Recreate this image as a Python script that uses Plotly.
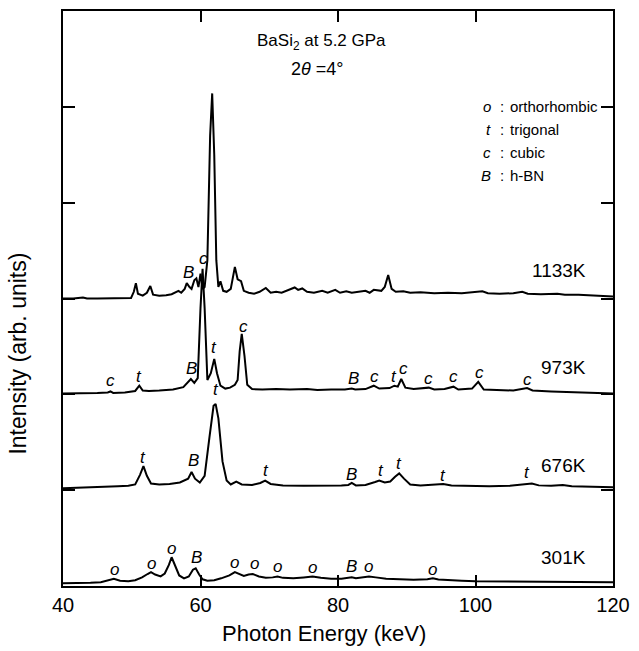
import plotly.graph_objects as go

# ---------------- data (photon energy keV, intensity in arb. units incl. offset) -------------
E_301 = [40.0, 42.0, 44.0, 45.5, 46.5, 47.4, 48.3, 49.5, 50.5, 51.5, 52.3, 52.8, 53.4, 54.2, 54.8,
         55.4, 55.8, 56.3, 56.9, 57.6, 58.3, 58.9, 59.3, 59.8, 60.3, 61.0, 62.0, 63.0, 64.2, 65.0,
         65.7, 66.3, 67.0, 67.6, 68.5, 69.5, 70.5, 71.2, 72.0, 73.5, 75.0, 76.3, 77.5, 79.0, 80.5,
         81.5, 82.0, 82.6, 83.5, 84.5, 85.5, 87.0, 89.0, 91.0, 93.0, 93.8, 94.6, 96.0, 98.0, 100.0,
         103.0, 106.0, 110.0, 114.0, 117.0, 120.0]
I_301 = [0.03, 0.03, 0.035, 0.04, 0.06, 0.075, 0.055, 0.05, 0.06, 0.09, 0.125, 0.145, 0.12, 0.10, 0.13,
         0.22, 0.30, 0.21, 0.11, 0.08, 0.10, 0.17, 0.185, 0.12, 0.07, 0.055, 0.06, 0.08, 0.11, 0.145,
         0.12, 0.105, 0.12, 0.125, 0.10, 0.085, 0.09, 0.10, 0.085, 0.08, 0.09, 0.10, 0.085, 0.075, 0.075,
         0.08, 0.09, 0.08, 0.09, 0.10, 0.09, 0.075, 0.07, 0.065, 0.07, 0.08, 0.068, 0.06, 0.055, 0.05,
         0.048, 0.045, 0.045, 0.04, 0.04, 0.04]

E_676 = [40.0, 43.0, 46.0, 48.0, 49.5, 50.5, 51.2, 51.7, 52.2, 52.8, 54.0, 55.5, 57.0, 58.2, 58.7,
         59.2, 59.9, 60.6, 61.3, 61.9, 62.2, 62.6, 63.2, 63.8, 64.4, 65.2, 66.0, 67.5, 68.7, 69.4,
         70.2, 72.0, 75.0, 78.0, 80.5, 81.5, 82.0, 82.6, 84.0, 85.4, 86.0, 86.8, 87.6, 88.3, 88.9,
         89.6, 90.5, 92.0, 94.2, 95.3, 96.5, 99.0, 102.0, 105.0, 107.3, 108.2, 109.2, 111.0, 112.7,
         114.0, 117.0, 120.0]
I_676 = [1.02, 1.025, 1.03, 1.04, 1.045, 1.06, 1.16, 1.25, 1.15, 1.07, 1.06, 1.065, 1.08, 1.12, 1.19,
         1.12, 1.08, 1.15, 1.55, 1.88, 1.90, 1.75, 1.30, 1.10, 1.06, 1.09, 1.06, 1.055, 1.075, 1.10,
         1.065, 1.05, 1.045, 1.045, 1.05, 1.055, 1.075, 1.05, 1.055, 1.085, 1.10, 1.08, 1.09, 1.14, 1.175,
         1.12, 1.06, 1.05, 1.055, 1.065, 1.05, 1.045, 1.04, 1.045, 1.06, 1.07, 1.05, 1.045, 1.055,
         1.04, 1.035, 1.03]

E_973 = [40.0, 43.0, 45.0, 46.5, 46.9, 47.3, 49.0, 50.5, 51.1, 51.6, 52.5, 54.0, 56.0, 57.5, 58.2,
         58.6, 59.1, 59.6, 60.0, 60.3, 60.6, 61.0, 61.5, 62.0, 62.4, 62.9, 63.6, 64.3, 65.0, 65.4,
         65.7, 66.0, 66.4, 66.8, 67.5, 69.0, 71.0, 73.0, 75.5, 77.0, 79.0, 81.0, 82.0, 82.5, 84.0,
         85.2, 86.0, 87.5, 88.2, 88.7, 89.2, 89.8, 91.0, 93.2, 94.0, 95.5, 96.8, 97.5, 99.5, 100.4,
         101.2, 103.0, 105.5, 107.5, 108.3, 111.0, 114.0, 117.0, 120.0]
I_973 = [2.01, 2.01, 2.015, 2.02, 2.03, 2.015, 2.02, 2.035, 2.09, 2.04, 2.035, 2.04, 2.05, 2.075, 2.13,
         2.16, 2.12, 2.17, 2.9, 3.31, 2.9, 2.15, 2.22, 2.37, 2.22, 2.09, 2.06, 2.07, 2.10, 2.15,
         2.45, 2.63, 2.40, 2.10, 2.055, 2.05, 2.055, 2.05, 2.055, 2.045, 2.05, 2.05, 2.06, 2.05, 2.055,
         2.09, 2.06, 2.065, 2.09, 2.08, 2.16, 2.07, 2.055, 2.07, 2.05, 2.055, 2.08, 2.05, 2.06, 2.13,
         2.05, 2.045, 2.04, 2.065, 2.04, 2.03, 2.025, 2.02, 2.01]

E_1133 = [40.0, 41.5, 42.9, 43.5, 45.0, 47.0, 49.0, 49.9, 50.3, 50.6, 50.9, 51.6, 52.2, 52.7, 53.1,
          54.0, 55.0, 55.8, 56.8, 57.2, 57.7, 58.0, 58.4, 58.7, 59.1, 59.4, 59.7, 60.0, 60.3, 60.6,
          61.0, 61.4, 61.7, 62.0, 62.3, 62.6, 62.9, 63.3, 63.8, 64.4, 65.0, 65.4, 65.9, 66.3, 67.0,
          67.8, 68.6, 69.5, 70.2, 71.0, 71.8, 72.6, 73.3, 73.7, 74.2, 74.8, 75.5, 76.5, 77.7, 78.5,
          79.6, 80.3, 81.2, 82.0, 83.0, 84.0, 84.6, 85.2, 86.3, 86.8, 87.3, 87.8, 88.4, 89.5, 90.5,
          92.0, 94.0, 96.0, 98.0, 100.2, 101.0, 101.8, 103.5, 105.5, 106.8, 107.6, 109.5, 111.9, 113.0,
          115.0, 117.5, 120.0]
I_1133 = [3.0, 3.0, 3.01, 3.0, 3.0, 3.0, 3.0, 3.005, 3.07, 3.16, 3.05, 3.03, 3.06, 3.13, 3.04,
          3.03, 3.035, 3.045, 3.08, 3.06, 3.10, 3.16, 3.12, 3.10, 3.19, 3.21, 3.12, 3.26, 3.10, 3.12,
          3.40, 4.70, 5.14, 4.50, 3.40, 3.12, 3.18, 3.08, 3.07, 3.10, 3.33, 3.20, 3.18, 3.08, 3.06,
          3.05, 3.07, 3.11, 3.06, 3.07, 3.06, 3.08, 3.10, 3.115, 3.09, 3.105, 3.07, 3.06, 3.08, 3.06,
          3.09, 3.06, 3.075, 3.06, 3.07, 3.08, 3.06, 3.09, 3.08, 3.12, 3.245, 3.10, 3.07, 3.075, 3.06,
          3.065, 3.055, 3.06, 3.055, 3.065, 3.075, 3.055, 3.05, 3.055, 3.07, 3.05, 3.045, 3.05, 3.04,
          3.04, 3.03, 3.02]

# peak labels: energy, height, phase letter
LBL_301_E = [47.5, 52.8, 55.8, 59.4, 65.0, 67.8, 71.2, 76.3, 82.0, 84.5, 93.8]
LBL_301_Y = [0.17, 0.24, 0.395, 0.30, 0.25, 0.23, 0.20, 0.19, 0.20, 0.20, 0.17]
LBL_301_T = ["o", "o", "o", "B", "o", "o", "o", "o", "B", "o", "o"]

LBL_676_E = [51.7, 59.0, 62.2, 69.5, 82.0, 86.3, 88.9, 95.3, 107.5]
LBL_676_Y = [1.34, 1.31, 2.05, 1.21, 1.165, 1.21, 1.28, 1.155, 1.185]
LBL_676_T = ["t", "B", "t", "t", "B", "t", "t", "t", "t"]

LBL_973_E = [46.9, 51.1, 58.7, 61.9, 66.2, 82.3, 85.3, 88.1, 89.5, 93.2, 96.8, 100.6, 107.5]
LBL_973_Y = [2.14, 2.19, 2.27, 2.49, 2.71, 2.17, 2.19, 2.19, 2.27, 2.17, 2.19, 2.23, 2.16]
LBL_973_T = ["c", "t", "B", "t", "c", "B", "c", "t", "c", "c", "c", "c", "c"]

LBL_1133_E = [58.3, 60.4]
LBL_1133_Y = [3.27, 3.42]
LBL_1133_T = ["B", "c"]

TEMPS = ["1133K", "973K", "676K", "301K"]
TEMP_Y = [3.29, 2.28, 1.26, 0.30]

KEY_SYM = ["o", "t", "c", "B"]
KEY_TXT = ["orthorhombic", "trigonal", "cubic", "h-BN"]

X_TICKS = [40, 60, 80, 100, 120]

FONT = "Liberation Sans, Arial, sans-serif"

fig = go.Figure()
for E, I in [(E_301, I_301), (E_676, I_676), (E_973, I_973), (E_1133, I_1133)]:
    fig.add_trace(go.Scatter(x=E, y=I, mode="lines",
                             line=dict(color="black", width=2), showlegend=False,
                             hoverinfo="skip"))

ann = []
for Es, Ys, Ts in [(LBL_301_E, LBL_301_Y, LBL_301_T), (LBL_676_E, LBL_676_Y, LBL_676_T),
                   (LBL_973_E, LBL_973_Y, LBL_973_T), (LBL_1133_E, LBL_1133_Y, LBL_1133_T)]:
    for e, y, t in zip(Es, Ys, Ts):
        ann.append(dict(x=e, y=y, xref="x", yref="y", text="<i>%s</i>" % t, showarrow=False,
                        font=dict(family=FONT, size=17, color="black"),
                        xanchor="center", yanchor="middle"))

for t, y in zip(TEMPS, TEMP_Y):
    ann.append(dict(x=116.3, y=y, xref="x", yref="y", text=t, showarrow=False,
                    font=dict(family=FONT, size=19, color="black"),
                    xanchor="right", yanchor="middle"))

# key
for k, (s, txt) in enumerate(zip(KEY_SYM, KEY_TXT)):
    yy = 5.0 - k * 0.24
    ann.append(dict(x=102.6, y=yy, xref="x", yref="y", text="<i>%s</i>" % s, showarrow=False,
                    font=dict(family=FONT, size=15, color="black"), xanchor="right", yanchor="middle"))
    ann.append(dict(x=103.8, y=yy, xref="x", yref="y", text=":", showarrow=False,
                    font=dict(family=FONT, size=15, color="black"), xanchor="center", yanchor="middle"))
    ann.append(dict(x=104.7, y=yy, xref="x", yref="y", text=txt, showarrow=False,
                    font=dict(family=FONT, size=15, color="black"), xanchor="left", yanchor="middle"))

# header text
ann.append(dict(x=77.6, y=5.68, xref="x", yref="y", text="BaSi<sub>2</sub> at 5.2 GPa", showarrow=False,
                font=dict(family=FONT, size=17, color="black"), xanchor="center", yanchor="middle"))
ann.append(dict(x=77.0, y=5.39, xref="x", yref="y", text="2<i>θ</i> =4°", showarrow=False,
                font=dict(family=FONT, size=18, color="black"), xanchor="center", yanchor="middle"))

# axis titles
ann.append(dict(x=0.475, y=-0.083, xref="paper", yref="paper", text="Photon Energy (keV)", showarrow=False,
                font=dict(family=FONT, size=22, color="black"), xanchor="center", yanchor="middle"))
ann.append(dict(x=-0.081, y=0.405, xref="paper", yref="paper", text="Intensity (arb. units)",
                showarrow=False, textangle=-90,
                font=dict(family=FONT, size=23, color="black"), xanchor="center", yanchor="middle"))

fig.update_layout(
    width=639, height=651,
    margin=dict(l=63, r=20, t=9, b=65),
    paper_bgcolor="white", plot_bgcolor="white",
    annotations=ann,
    xaxis=dict(range=[40, 120], tickvals=X_TICKS, ticktext=[str(v) for v in X_TICKS],
               ticks="inside", ticklen=11, tickwidth=1.5, tickcolor="black",
               showline=True, linecolor="black", linewidth=2, mirror="ticks",
               showgrid=False, zeroline=False,
               tickfont=dict(family=FONT, size=20, color="black")),
    yaxis=dict(range=[0, 6], tickvals=[0, 1, 2, 3, 4, 5, 6], showticklabels=False,
               ticks="inside", ticklen=12, tickwidth=1.5, tickcolor="black",
               showline=True, linecolor="black", linewidth=2, mirror="ticks",
               showgrid=False, zeroline=False),
)

fig.write_html("out.html")
